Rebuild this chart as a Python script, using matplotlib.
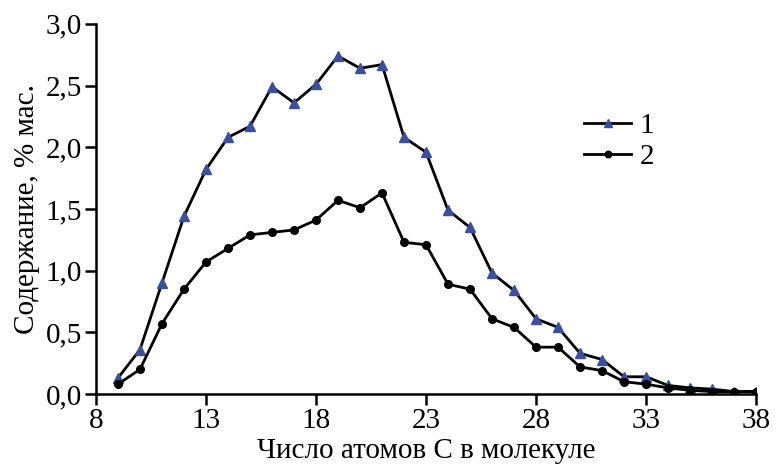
import matplotlib
matplotlib.use("Agg")
import matplotlib.pyplot as plt
from matplotlib.ticker import FuncFormatter

carbon = list(range(9, 39))
series1 = [0.13, 0.36, 0.90, 1.44, 1.82, 2.08, 2.17, 2.49, 2.36, 2.51,
           2.74, 2.64, 2.67, 2.08, 1.96, 1.49, 1.35, 0.98, 0.84, 0.61,
           0.54, 0.33, 0.28, 0.14, 0.14, 0.07, 0.05, 0.04, 0.02, 0.02]
series2 = [0.08, 0.20, 0.57, 0.85, 1.07, 1.18, 1.29, 1.31, 1.33, 1.41,
           1.57, 1.51, 1.63, 1.23, 1.21, 0.89, 0.85, 0.61, 0.54, 0.38,
           0.38, 0.22, 0.19, 0.10, 0.08, 0.05, 0.03, 0.02, 0.02, 0.02]
labels = ["1", "2"]
xticks = [8, 13, 18, 23, 28, 33, 38]
yticks = [0.0, 0.5, 1.0, 1.5, 2.0, 2.5, 3.0]
xlabel = "Число атомов С в молекуле"
ylabel = "Содержание, % мас."

plt.rcParams['font.family'] = ['Liberation Serif', 'DejaVu Serif']

fig = plt.figure(figsize=(7.84, 4.68), dpi=100)
ax = fig.add_axes([0.1224, 0.158, 0.842, 0.791])

ax.plot(carbon, series1, color='black', lw=2.0, marker='^', markersize=7.5,
        markerfacecolor='#3b4f9f', markeredgecolor='#3b4f9f', label=labels[0])
ax.plot(carbon, series2, color='black', lw=2.0, marker='o', markersize=5.5,
        markerfacecolor='black', markeredgecolor='black', label=labels[1])

ax.set_xlim(8, 38)
ax.set_ylim(0, 3.0)
ax.set_xticks(xticks)
ax.set_yticks(yticks)
ax.yaxis.set_major_formatter(FuncFormatter(lambda v, p: f"{v:.1f}".replace('.', ',')))
ax.tick_params(direction='out', length=8, width=1.8, labelsize=21, pad=2)
for s in ['top', 'right']:
    ax.spines[s].set_visible(False)
for s in ['left', 'bottom']:
    ax.spines[s].set_linewidth(1.8)
ax.set_xlabel(xlabel, fontsize=21, labelpad=3)
ax.set_ylabel(ylabel, fontsize=21, labelpad=4)

leg = ax.legend(loc='upper left', bbox_to_anchor=(0.70, 0.83), frameon=False,
                fontsize=21, handlelength=1.6, handletextpad=0.3,
                labelspacing=0.15, markerscale=0.85)

fig.savefig("out.png", dpi=100)
